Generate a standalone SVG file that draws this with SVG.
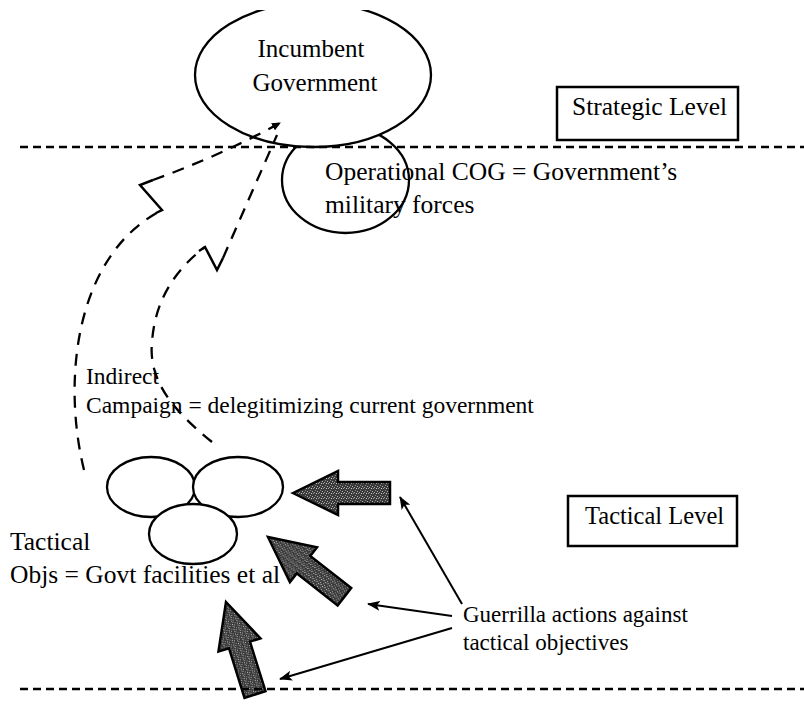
<svg xmlns="http://www.w3.org/2000/svg" width="804" height="705" viewBox="0 0 804 705">
<style>
  text { font-family: "Liberation Serif", "Times New Roman", serif; fill: #000; }
  .shape { fill: #fff; stroke: #000; stroke-width: 2.3; }
  .box { fill: #fff; stroke: #000; stroke-width: 2.5; }
  .level { stroke: #000; stroke-width: 2.5; stroke-dasharray: 8 5; fill: none; }
  .curve { stroke: #000; stroke-width: 2.3; stroke-dasharray: 12 9; fill: none; }
  .zig { stroke: #000; stroke-width: 2.5; fill: none; stroke-linejoin: miter; }
  .thin { stroke: #000; stroke-width: 2; fill: none; }
  .block { fill: url(#stipple); stroke: #000; stroke-width: 2.5; stroke-linejoin: miter; }
</style>
<defs>
  <pattern id="stipple" width="5" height="5" patternUnits="userSpaceOnUse">
    <rect width="5" height="5" fill="#3a3a3a"/>
    <rect x="0" y="0" width="1" height="1" fill="#9a9a9a"/>
    <rect x="3" y="0" width="1" height="1" fill="#c8c8c8"/>
    <rect x="2" y="2" width="1" height="1" fill="#8a8a8a"/>
    <rect x="4" y="3" width="1" height="1" fill="#b0b0b0"/>
    <rect x="1" y="4" width="1" height="1" fill="#a0a0a0"/>
  </pattern>
  <clipPath id="topcut">
    <rect x="0" y="10" width="804" height="695"/>
  </clipPath>
  <marker id="ah" markerWidth="14" markerHeight="10" refX="12" refY="5" orient="auto" markerUnits="userSpaceOnUse">
    <path d="M0,0 L13,5 L0,10 L3,5 Z" fill="#000"/>
  </marker>
  <marker id="ahs" markerWidth="10" markerHeight="8" refX="8" refY="4" orient="auto" markerUnits="userSpaceOnUse">
    <path d="M0,0 L9,4 L0,8 Z" fill="#000"/>
  </marker>
  <polygon id="blockArrow" points="0,0 45,-22 45,-11 97,-11 97,11 45,11 45,22"/>
</defs>

<!-- Operational COG ellipse (partly behind the government ellipse) -->
<g id="operational-cog">
  <ellipse class="shape" cx="345.5" cy="180" rx="63.5" ry="53" fill="none"/>
</g>

<g id="incumbent-government">
  <ellipse class="shape" cx="313" cy="75" rx="118" ry="72" clip-path="url(#topcut)"/>
  <text x="311" y="57" font-size="25" text-anchor="middle">Incumbent</text>
  <text x="315" y="91" font-size="25" text-anchor="middle">Government</text>
</g>

<g id="operational-label">
  <text x="325" y="180" font-size="25.5">Operational COG = Government’s</text>
  <text x="325" y="213" font-size="25.5">military forces</text>
</g>

<g id="strategic-level">
  <rect class="box" x="557" y="87" width="181" height="53"/>
  <text x="572" y="115" font-size="25.5">Strategic Level</text>
</g>

<g id="tactical-level">
  <rect class="box" x="568" y="496" width="169" height="50"/>
  <text x="585" y="524" font-size="24.5">Tactical Level</text>
</g>

<g id="tactical-objectives">
  <ellipse class="shape" cx="151" cy="487" rx="44" ry="30"/>
  <ellipse class="shape" cx="238" cy="487" rx="45" ry="30"/>
  <ellipse class="shape" cx="193" cy="534" rx="44" ry="30"/>
</g>

<g id="tactical-label">
  <text x="10" y="550" font-size="25.5">Tactical</text>
  <text x="10" y="583" font-size="25.5">Objs = Govt facilities et al</text>
</g>

<g id="indirect-label">
  <text x="86" y="384" font-size="23.5">Indirect</text>
  <text x="86" y="413" font-size="23.5">Campaign = delegitimizing current government</text>
</g>

<g id="guerrilla-label">
  <text x="463" y="622" font-size="23">Guerrilla actions against</text>
  <text x="463" y="650" font-size="23">tactical objectives</text>
</g>

<g id="guerrilla-actions">
  <use href="#blockArrow" class="block" transform="translate(293,493)"/>
  <use href="#blockArrow" class="block" transform="translate(268,537) rotate(38)"/>
  <use href="#blockArrow" class="block" transform="translate(226,602) rotate(72.6)"/>
</g>

<g id="connectors">
  <!-- level boundaries -->
  <line class="level" x1="20" y1="147" x2="804" y2="147"/>
  <line class="level" x1="20" y1="689" x2="804" y2="689"/>
  <!-- outer indirect path -->
  <path class="curve" d="M84,470 C62,380 75,255 162,210"/>
  <polyline class="zig" points="156,213 162,210 140,185 153,180"/>
  <path class="curve" d="M153,180 C195,165 240,145 280,123" marker-end="url(#ahs)"/>
  <!-- inner indirect path -->
  <path class="curve" d="M212,442 C175,412 148,382 152,342 C155,300 175,270 205,247"/>
  <polyline class="zig" points="199,251 205,247 217,270 223,258"/>
  <path class="curve" d="M223,258 L277,135"/>
  <!-- pointers from guerrilla label -->
  <line class="thin" x1="462" y1="604" x2="400" y2="497" marker-end="url(#ah)"/>
  <line class="thin" x1="452" y1="616" x2="368" y2="604" marker-end="url(#ah)"/>
  <line class="thin" x1="452" y1="628" x2="280" y2="679" marker-end="url(#ah)"/>
</g>
</svg>
